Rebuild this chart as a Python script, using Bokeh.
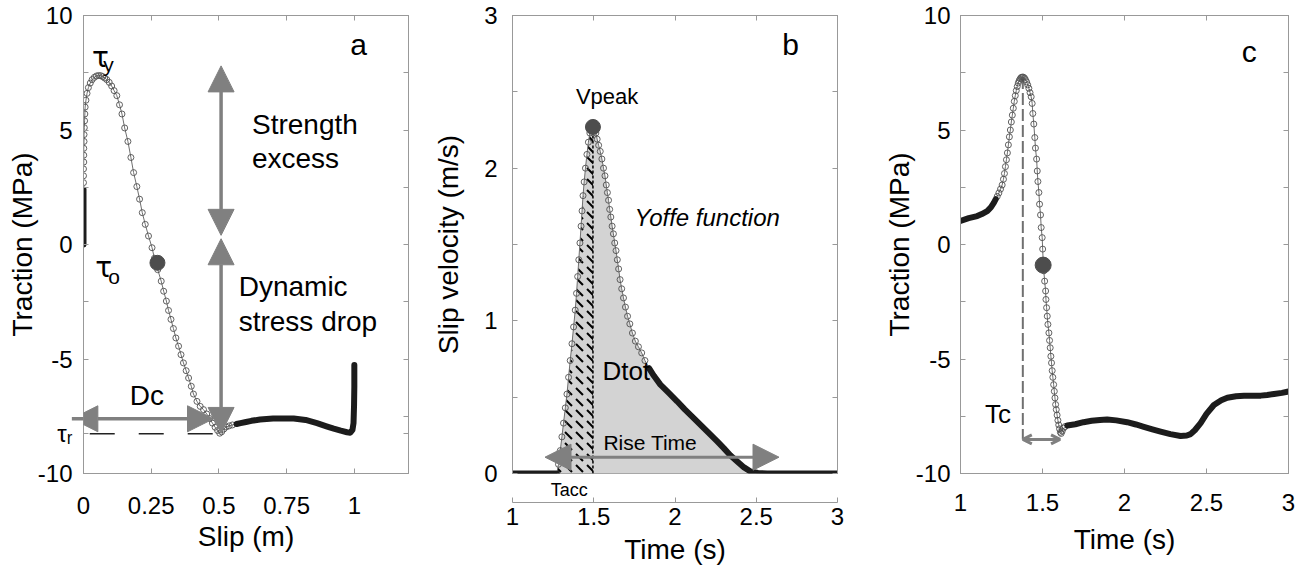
from bokeh.plotting import figure
from bokeh.layouts import row
from bokeh.models import (Range1d, FixedTicker, LinearAxis, Label, Arrow, NormalHead,
                          OpenHead, CustomJSTickFormatter)
from bokeh.embed import file_html
from bokeh.resources import INLINE

FONT = "Liberation Sans"

# ---------------- Panel a: traction vs slip ----------------
a_slip_start = [0.0, 0.0, 0.0, 0.0, 0.0, 0.0]
a_trac_start = [0.0, 0.5, 1.0, 1.5, 2.0, 2.4]
a_slip_mid = [0.0, 0.0, 0.0, 0.001, 0.001, 0.001, 0.002, 0.002, 0.003, 0.004,
              0.005, 0.006, 0.009, 0.013, 0.018, 0.025, 0.032, 0.040, 0.048, 0.056,
              0.064, 0.071, 0.078, 0.086, 0.095, 0.104, 0.113, 0.123, 0.133, 0.142,
              0.152, 0.164, 0.175, 0.185, 0.197, 0.207, 0.217, 0.228, 0.240, 0.253,
              0.262, 0.274, 0.287, 0.296, 0.306, 0.314, 0.323, 0.332, 0.341, 0.351,
              0.360, 0.369, 0.379, 0.388, 0.398, 0.406, 0.419, 0.431, 0.443, 0.455,
              0.466, 0.476, 0.486, 0.495, 0.503, 0.510, 0.518, 0.527, 0.538, 0.550]
a_trac_mid = [2.7, 3.0, 3.3, 3.6, 3.9, 4.2, 4.5, 4.8, 5.1, 5.4,
              5.7, 6.0, 6.3, 6.6, 6.85, 7.05, 7.2, 7.3, 7.36, 7.38,
              7.37, 7.33, 7.27, 7.2, 7.08, 6.92, 6.72, 6.5, 6.1, 5.7,
              5.09, 4.5, 3.8, 3.14, 2.53, 1.98, 1.39, 0.88, 0.37, -0.14,
              -0.6, -1.1, -1.6, -2.04, -2.47, -2.88, -3.27, -3.67, -4.08, -4.44,
              -4.81, -5.17, -5.51, -5.83, -6.19, -6.53, -6.85, -7.07, -7.21, -7.4,
              -7.6, -7.8, -7.98, -8.12, -8.24, -8.18, -8.06, -7.97, -7.92, -7.88]
a_slip_end = [0.565, 0.58, 0.60, 0.62, 0.652, 0.70, 0.776, 0.82, 0.862, 0.90,
              0.924, 0.95, 0.973, 0.985, 0.993, 0.997, 0.999, 1.0, 1.0]
a_trac_end = [-7.84, -7.8, -7.75, -7.7, -7.64, -7.6, -7.6, -7.66, -7.80, -7.95,
              -8.04, -8.13, -8.20, -8.22, -8.1, -7.8, -7.0, -6.2, -5.26]
a_dot_slip, a_dot_trac = 0.273, -0.80
a_tau_r = -8.26
a_tau_r_slip = [0.023, 0.49]

# ---------------- Panel b: slip velocity vs time ----------------
b_t_start = [1.0, 1.1, 1.2, 1.273]
b_v_start = [0.0, 0.0, 0.0, 0.0]
b_t_rise = [1.283, 1.294, 1.304, 1.314, 1.325, 1.335, 1.345, 1.355, 1.366, 1.376,
            1.386, 1.394, 1.401, 1.408, 1.415, 1.422, 1.428, 1.434, 1.441, 1.449,
            1.458, 1.467, 1.476, 1.485, 1.495]
b_v_rise = [0.06, 0.15, 0.24, 0.33, 0.43, 0.52, 0.63, 0.74, 0.85, 0.96,
            1.07, 1.18, 1.29, 1.40, 1.51, 1.62, 1.72, 1.82, 1.91, 2.00,
            2.09, 2.17, 2.23, 2.26, 2.27]
b_t_fall = [1.505, 1.513, 1.521, 1.530, 1.540, 1.550, 1.560, 1.569, 1.577, 1.584,
            1.591, 1.598, 1.605, 1.613, 1.621, 1.629, 1.637, 1.645, 1.653, 1.662,
            1.672, 1.683, 1.695, 1.708, 1.722, 1.738, 1.756, 1.775, 1.795, 1.815]
b_v_fall = [2.26, 2.23, 2.19, 2.15, 2.11, 2.06, 2.00, 1.95, 1.89, 1.84,
            1.79, 1.73, 1.68, 1.62, 1.57, 1.51, 1.46, 1.40, 1.34, 1.27,
            1.21, 1.15, 1.09, 1.03, 0.98, 0.92, 0.867, 0.83, 0.79, 0.74]
b_t_end = [1.840, 1.870, 1.910, 1.960, 2.013, 2.060, 2.115, 2.165, 2.218, 2.260,
           2.300, 2.340, 2.383, 2.425, 2.465, 2.510, 2.567, 2.650, 2.800, 3.000]
b_v_end = [0.69, 0.64, 0.582, 0.53, 0.473, 0.42, 0.363, 0.31, 0.254, 0.21,
           0.166, 0.12, 0.079, 0.04, 0.013, 0.003, 0.0, 0.0, 0.0, 0.0]
b_peak_t, b_peak_v = 1.495, 2.27
b_tacc = 1.349

# ---------------- Panel c: traction vs time ----------------
c_t_start = [1.0, 1.05, 1.102, 1.13, 1.163, 1.185, 1.203, 1.215]
c_tr_start = [1.03, 1.15, 1.24, 1.33, 1.46, 1.62, 1.82, 1.98]
c_t_mid = [1.224, 1.234, 1.244, 1.254, 1.262, 1.268, 1.274, 1.280, 1.286, 1.292,
           1.298, 1.304, 1.310, 1.316, 1.322, 1.328, 1.334, 1.340, 1.346, 1.352,
           1.358, 1.364, 1.370, 1.376, 1.383, 1.390, 1.396, 1.403, 1.410, 1.417,
           1.424, 1.431, 1.437, 1.441, 1.447, 1.453, 1.457, 1.464, 1.468, 1.472,
           1.478, 1.482, 1.488, 1.492, 1.498, 1.501, 1.504, 1.508, 1.513, 1.519,
           1.521, 1.525, 1.529, 1.533, 1.539, 1.543, 1.547, 1.551, 1.555, 1.559,
           1.563, 1.568, 1.572, 1.576, 1.580, 1.584, 1.589, 1.594, 1.599, 1.604,
           1.609, 1.614, 1.620, 1.628, 1.638]
c_tr_mid = [2.1, 2.25, 2.42, 2.6, 2.85, 3.1, 3.4, 3.7, 4.0, 4.35,
            4.7, 5.0, 5.35, 5.65, 5.95, 6.25, 6.5, 6.72, 6.9, 7.05,
            7.16, 7.24, 7.29, 7.31, 7.31, 7.27, 7.2, 7.1, 6.97, 6.82,
            6.63, 6.45, 6.16, 5.72, 5.26, 4.67, 4.21, 3.73, 3.21, 2.75,
            2.27, 1.76, 1.29, 0.74, 0.30, -0.2, -0.7, -1.15, -1.6, -2.03,
            -2.40, -2.76, -3.13, -3.49, -3.86, -4.19, -4.51, -4.88, -5.17, -5.51,
            -5.80, -6.12, -6.41, -6.70, -6.99, -7.21, -7.45, -7.68, -7.88, -8.05,
            -8.2, -8.25, -8.15, -8.02, -7.95]
c_t_end = [1.651, 1.70, 1.75, 1.80, 1.85, 1.894, 1.95, 2.016, 2.07, 2.118,
           2.17, 2.22, 2.28, 2.342, 2.38, 2.403, 2.43, 2.464, 2.50, 2.545,
           2.59, 2.627, 2.68, 2.729, 2.78, 2.831, 2.87, 2.912, 2.96, 3.0]
c_tr_end = [-7.9, -7.85, -7.76, -7.7, -7.66, -7.64, -7.68, -7.76, -7.86, -7.96,
            -8.07, -8.17, -8.28, -8.36, -8.34, -8.28, -8.1, -7.80, -7.4, -7.01,
            -6.8, -6.69, -6.63, -6.61, -6.61, -6.6, -6.57, -6.53, -6.48, -6.42]
c_dot_t, c_dot_tr = 1.504, -0.90
c_peak_t, c_peak_tr = 1.38, 7.31
c_tc_level, c_tc_end = -8.51, 1.607

# tick values
a_xticks = [0, 0.25, 0.5, 0.75, 1]
trac_ticks = [-10, -5, 0, 5, 10]
trac_minor = [-7.5, -2.5, 2.5, 7.5]
time_ticks = [1, 1.5, 2, 2.5, 3]
v_ticks = [0, 1, 2, 3]
v_minor = [0.5, 1.5, 2.5]

GRAY = "#999999"
ARROW = "#808080"
FMT = "return tick.toString();"


def tick_axis(ticks, minor, fmt, std, lab, labstd, size="24px"):
    ax = LinearAxis(ticker=FixedTicker(ticks=ticks, minor_ticks=minor), formatter=fmt)
    ax.major_label_text_font = FONT + ", DejaVu Sans"
    ax.major_label_text_font_size = size
    ax.major_label_text_color = "black"
    ax.major_label_standoff = std
    ax.axis_label = lab
    ax.axis_label_text_font = FONT
    ax.axis_label_text_font_size = "28px"
    ax.axis_label_text_font_style = "normal"
    ax.axis_label_text_color = "black"
    ax.axis_label_standoff = labstd
    ax.axis_line_color = GRAY
    ax.major_tick_line_color = GRAY
    ax.minor_tick_line_color = GRAY
    ax.major_tick_in = 5
    ax.major_tick_out = 0
    ax.minor_tick_in = 5
    ax.minor_tick_out = 0
    return ax


def make_fig(xr, yr, left, frame_w, right, xt, yt, ytm, xl, yl,
             xl_std, yl_std, ylab_std, xlab_std, yfmt=None, extra_below=None):
    p = figure(frame_width=frame_w, frame_height=458,
               x_range=Range1d(*xr), y_range=Range1d(*yr),
               x_axis_location=None, y_axis_location=None,
               min_border_left=left, min_border_right=right,
               min_border_top=15, min_border_bottom=97,
               output_backend="svg", toolbar_location=None,
               background_fill_color="white", border_fill_color="white")
    p.grid.visible = False
    p.outline_line_color = GRAY
    if extra_below is not None:
        p.add_layout(extra_below, "below")
    p.add_layout(tick_axis(xt, [], CustomJSTickFormatter(code=FMT), xl_std, xl, xlab_std), "below")
    p.add_layout(tick_axis(yt, ytm, yfmt or CustomJSTickFormatter(code=FMT),
                           yl_std, yl, ylab_std), "left")
    for loc, ticks, minor in (("above", xt, []), ("right", yt, ytm)):
        ax = LinearAxis(ticker=FixedTicker(ticks=ticks, minor_ticks=minor),
                        formatter=CustomJSTickFormatter(code="return '';"),
                        major_label_standoff=0, major_label_text_font_size="0px",
                        axis_line_color=GRAY, major_tick_line_color=GRAY,
                        minor_tick_line_color=GRAY, major_tick_in=5, major_tick_out=0,
                        minor_tick_in=5, minor_tick_out=0)
        p.add_layout(ax, loc)
    return p


def draw_curve(p, xs0, ys0, xm, ym, xe, ye):
    xs = xs0 + xm + xe
    ys = ys0 + ym + ye
    p.line(xs, ys, line_color="#6e6e6e", line_width=1)
    p.scatter(xm, ym, marker="circle", size=6, fill_color=None,
              line_color="#505050", line_width=0.9)
    p.line(xs0, ys0, line_color="#1c1c1c", line_width=6, line_join="round", line_cap="round")
    p.line(xe, ye, line_color="#1c1c1c", line_width=6, line_join="round", line_cap="round")


def label(p, x, y, text, size, align="center", baseline="middle", style="normal", font=FONT):
    p.add_layout(Label(x=x, y=y, text=text, text_font=font, text_font_size=size,
                       text_align=align, text_baseline=baseline, text_color="black",
                       text_font_style=style))


def arrow(p, x0, y0, x1, y1, size=26, width=3.5, head=NormalHead):
    if head is NormalHead:
        mk = lambda: NormalHead(size=size, fill_color=ARROW, line_color=ARROW, line_width=1)
    else:
        mk = lambda: OpenHead(size=size, line_color=ARROW, line_width=width)
    p.add_layout(Arrow(start=mk(), end=mk(), x_start=x0, y_start=y0, x_end=x1, y_end=y1,
                       line_color=ARROW, line_width=width))


# ---------- figure a ----------
a_yfmt = CustomJSTickFormatter(args=dict(lvl=a_tau_r),
                               code="return Math.abs(tick - lvl) < 1e-6 ? 'τᵣ' : tick.toString();")
pa = make_fig((0, 1.2), (-10, 10), 83, 325, 22, a_xticks, trac_ticks + [a_tau_r], trac_minor,
              "Slip (m)", "Traction (MPa)", 23, 11, -3, 4, yfmt=a_yfmt)
pa.line(a_tau_r_slip, [a_tau_r, a_tau_r], line_color="#222222", line_width=1.5,
        line_dash="25 24")
draw_curve(pa, a_slip_start, a_trac_start, a_slip_mid, a_trac_mid, a_slip_end, a_trac_end)
pa.scatter([a_dot_slip], [a_dot_trac], size=15, color="#4d4d4d")
arrow(pa, 0.508, 0.4, 0.508, 7.8)
arrow(pa, 0.508, 0.25, 0.508, -8.25)
arrow(pa, -0.043, -7.61, 0.48, -7.61)
label(pa, 1.016, 8.75, "a", "30px")
label(pa, 0.622, 5.25, "Strength", "28px", align="left")
label(pa, 0.622, 3.74, "excess", "28px", align="left")
label(pa, 0.573, -1.84, "Dynamic", "28px", align="left")
label(pa, 0.573, -3.35, "stress drop", "28px", align="left")
label(pa, 0.234, -6.6, "Dc", "28px")
label(pa, 0.031, 8.18, "τ", "28px", align="left", baseline="alphabetic", font="DejaVu Sans")
label(pa, 0.073, 7.86, "y", "21px", align="left", baseline="alphabetic")
label(pa, 0.043, -0.99, "τ", "28px", align="left", baseline="alphabetic", font="DejaVu Sans")
label(pa, 0.091, -1.40, "o", "21px", align="left", baseline="alphabetic")

# ---------- figure b ----------
tacc_axis = LinearAxis(ticker=FixedTicker(ticks=[b_tacc], minor_ticks=[]),
                       formatter=CustomJSTickFormatter(code="return 'Tacc';"),
                       major_label_text_font=FONT, major_label_text_font_size="18px",
                       major_label_text_color="black", major_label_standoff=6,
                       axis_line_color=None, major_tick_line_color=None,
                       minor_tick_line_color=None, major_tick_in=0, major_tick_out=0)
pb = make_fig((1, 3), (0, 3), 82, 325, 23, time_ticks, v_ticks, v_minor,
              "Time (s)", "Slip velocity (m/s)", 5, 15, 17, 6, extra_below=tacc_axis)
b_t_all = b_t_start + b_t_rise + b_t_fall + b_t_end
b_v_all = b_v_start + b_v_rise + b_v_fall + b_v_end
pb.varea(x=b_t_all, y1=[0] * len(b_t_all), y2=b_v_all, fill_color="#d3d3d3")
pb.varea(x=[b_t_start[-1]] + b_t_rise, y1=[0] * (len(b_t_rise) + 1),
         y2=[b_v_start[-1]] + b_v_rise, fill_alpha=0, hatch_pattern="left_diagonal_dash",
         hatch_color="black", hatch_scale=11, hatch_weight=2)
pb.segment(x0=[b_peak_t], y0=[0], x1=[b_peak_t], y1=[b_peak_v], line_color="black",
           line_width=1.5, line_dash="3 2")
draw_curve(pb, b_t_start, b_v_start, b_t_rise + b_t_fall, b_v_rise + b_v_fall, b_t_end, b_v_end)
pb.scatter([b_peak_t], [b_peak_v], size=15, color="#4d4d4d")
arrow(pb, 1.2, 0.107, 2.64, 0.107, size=26, width=3)
label(pb, 2.711, 2.81, "b", "30px")
label(pb, 1.582, 2.47, "Vpeak", "22px")
label(pb, 2.198, 1.68, "Yoffe function", "24px", style="italic")
label(pb, 1.70, 0.67, "Dtot", "26px")
label(pb, 1.848, 0.205, "Rise Time", "21px")

# ---------- figure c ----------
pc = make_fig((1, 3), (-10, 10), 100, 328, 19, time_ticks, trac_ticks, trac_minor,
              "Time (s)", "Traction (MPa)", 20, 10, -2, 10)
pc.segment(x0=[c_peak_t], y0=[c_peak_tr], x1=[c_peak_t], y1=[c_tc_level],
           line_color="#707070", line_width=2, line_dash="12 4")
draw_curve(pc, c_t_start, c_tr_start, c_t_mid, c_tr_mid, c_t_end, c_tr_end)
pc.scatter([c_dot_t], [c_dot_tr], size=16, color="#4d4d4d")
arrow(pc, c_peak_t, c_tc_level, c_tc_end, c_tc_level, size=9, width=3, head=OpenHead)
label(pc, 2.76, 8.43, "c", "30px")
label(pc, 1.228, -7.41, "Tc", "26px")

layout = row(pa, pb, pc)
open("out.html", "w").write(file_html(layout, INLINE))
